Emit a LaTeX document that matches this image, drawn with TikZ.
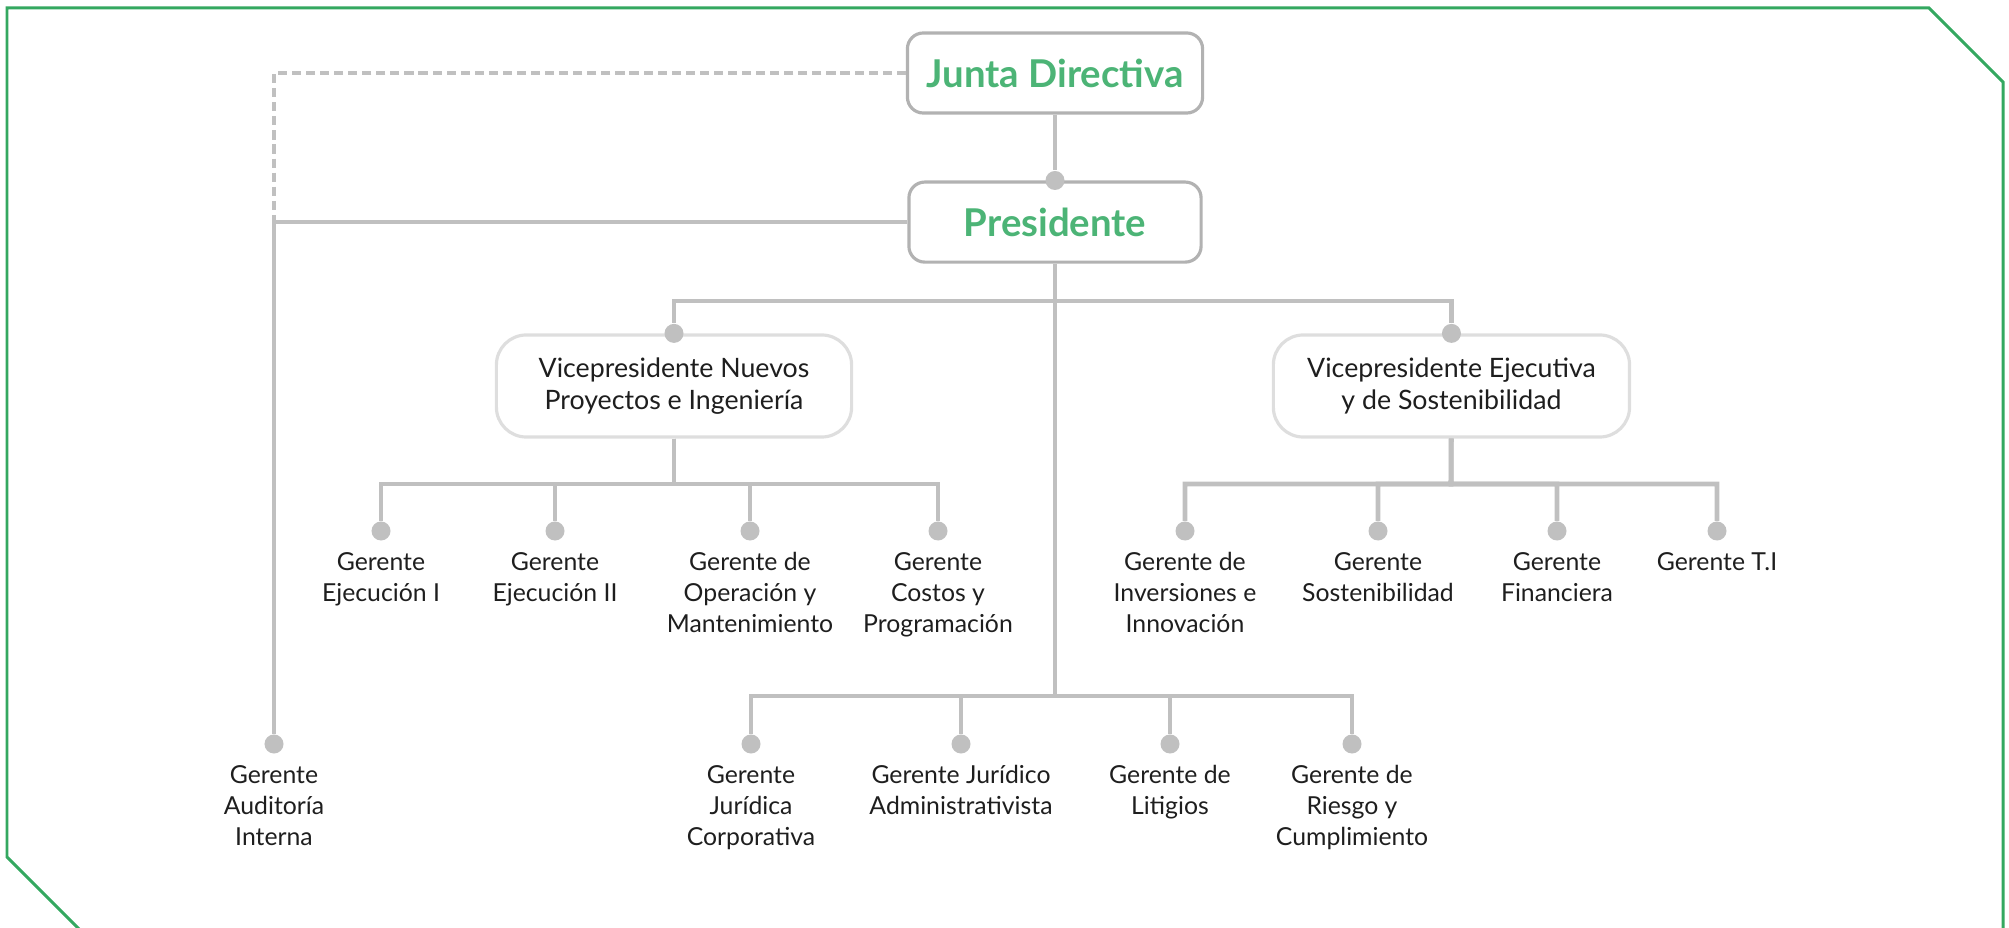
\documentclass[tikz,border=0pt]{standalone}
\usepackage{fontspec}
\setmainfont{Lato}
\usetikzlibrary{positioning}
\definecolor{framegreen}{RGB}{52,168,96}
\definecolor{headgreen}{RGB}{76,180,118}
\definecolor{linegray}{RGB}{192,192,192}
\definecolor{bossgray}{RGB}{178,178,178}
\definecolor{vpgray}{RGB}{222,222,222}
\definecolor{txtgray}{RGB}{30,30,30}

\begin{document}
\begin{tikzpicture}[x=0.01cm,y=-0.01cm,on grid,
    boss/.style={draw=bossgray,line width=0.9pt,rounded corners=4.5pt,fill=white,
        minimum width=2.95cm,minimum height=0.8cm,text=headgreen,
        font=\bfseries\fontsize{10.9}{12}\selectfont},
    vp/.style={draw=vpgray,line width=0.9pt,rounded corners=8.5pt,fill=white,
        minimum width=3.55cm,minimum height=1.02cm,align=center,text=txtgray,
        font=\fontsize{7.6}{9.1}\selectfont},
    dot/.style={circle,fill=linegray,inner sep=0pt,minimum size=0.19cm},
    ger/.style={anchor=north,align=center,inner sep=0pt,text=txtgray,
        font=\fontsize{7.05}{8.8}\selectfont},
    link/.style={draw=linegray,line width=1.3pt}]
  \useasboundingbox (0,0) rectangle (2009,928);
  \clip (0,0) rectangle (2009,928);
  % frame
  \draw[framegreen,line width=0.85pt] (95,945) -- (7,857) -- (7,8) -- (1929,8)
      -- (2003,82) -- (2003,945);

  \node[boss] (junta) at (1055,73) {Junta Directiva};
  \node[boss,minimum width=2.92cm] (pres) [below=1.49cm of junta] {Presidente};
  \node[vp] (vp_1) at (674,386) {Vicepresidente Nuevos\\Proyectos e Ingeniería};
  \node[vp,minimum width=3.56cm] (vp_2) [right=7.77cm of vp_1]
      {Vicepresidente Ejecutiva\\y de Sostenibilidad};

  \node[dot] (d_pres) at (pres.north) {};
  \node[dot] (d_vp_1) at (vp_1.north) {};
  \node[dot] (d_vp_2) at (vp_2.north) {};
  \node[dot] (d_aud) at (274,744) {};
  \node[ger] (aud) at (274,765) {Gerente\\Auditoría\\Interna};

  \coordinate (bus_0) at (1055,301);
  \coordinate (bus_1) at (674,484);
  \coordinate (bus_2) at (1451,484);
  \coordinate (bus_3) at (1055,696);
  \coordinate (corner) at (274,222);

  \draw[link] (junta) -- (d_pres);
  \draw[link] (pres) -- (bus_3);
  \draw[link] (bus_0) -| (d_vp_1);
  \draw[link] (bus_0) -| (d_vp_2);
  \draw[link] (pres) -| (d_aud);
  \draw[draw=linegray,line width=1pt,dash pattern=on 2.6pt off 1.4pt]
      (junta) -| (corner);

  % gerentes
  \foreach \x/\n/\t in {381/e_1/{Gerente\\Ejecución I},
      555/e_2/{Gerente\\Ejecución II},
      750/e_3/{Gerente de\\Operación y\\Mantenimiento},
      938/e_4/{Gerente\\Costos y\\Programación}}{
    \node[dot] (d_\n) at (\x,531) {};
    \node[ger] (\n) at (\x,552) {\t};
    \draw[link] (vp_1) -- (bus_1) -| (d_\n);
  }
  \foreach \x/\n/\t in {1185/s_1/{Gerente de\\Inversiones e\\Innovación},
      1378/s_2/{Gerente\\Sostenibilidad},
      1557/s_3/{Gerente\\Financiera},
      1717/s_4/{Gerente T.I}}{
    \node[dot] (d_\n) at (\x,531) {};
    \node[ger] (\n) at (\x,552) {\t};
    \draw[link] (vp_2) -- (bus_2) -| (d_\n);
  }
  \foreach \x/\n/\t in {751/j_1/{Gerente\\Jurídica\\Corporativa},
      961/j_2/{Gerente Jurídico\\Administrativista},
      1170/j_3/{Gerente de\\Litigios},
      1352/j_4/{Gerente de\\Riesgo y\\Cumplimiento}}{
    \node[dot] (d_\n) at (\x,744) {};
    \node[ger] (\n) at (\x,765) {\t};
    \draw[link] (bus_3) -| (d_\n);
  }
\end{tikzpicture}
\end{document}
